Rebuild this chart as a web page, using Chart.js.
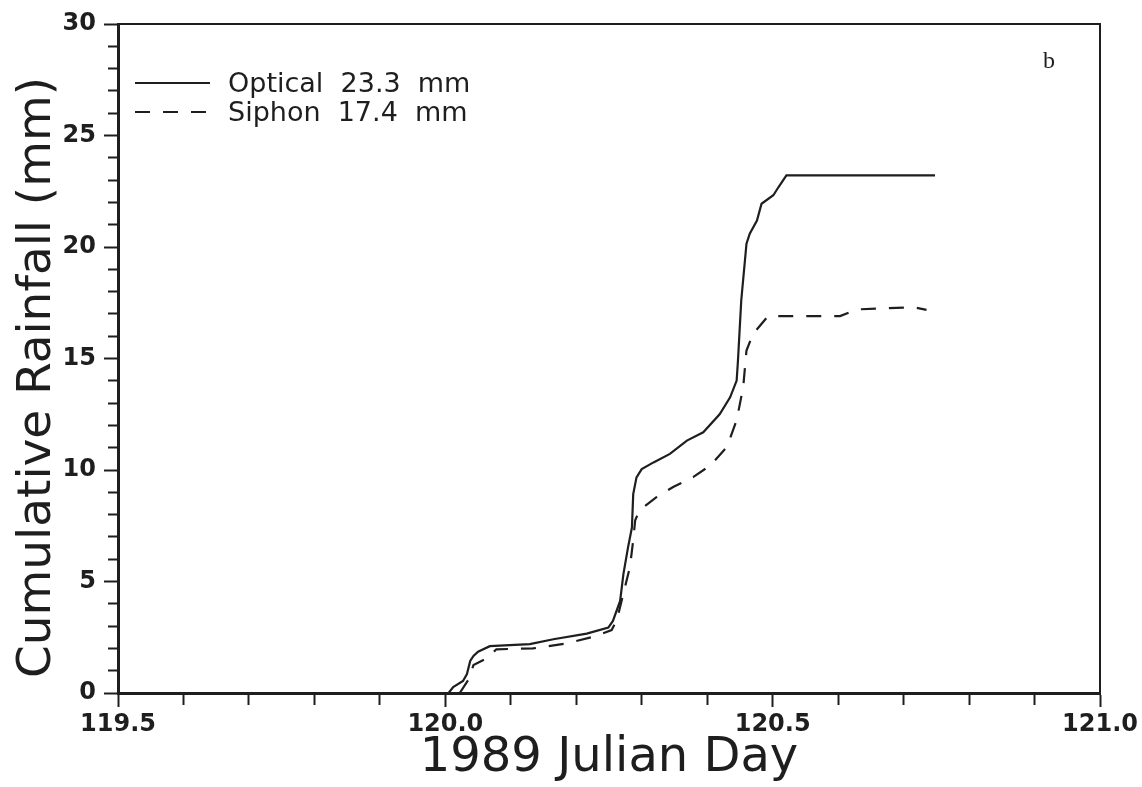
<!DOCTYPE html>
<html>
<head>
<meta charset="utf-8">
<title>Cumulative Rainfall</title>
<script src="https://cdn.jsdelivr.net/npm/chart.js@4.4.1/dist/chart.umd.min.js"></script>
<style>
  html, body { margin: 0; padding: 0; background: #fff; }
  #wrap { width: 1142px; height: 787px; }
</style>
</head>
<body>
<div id="wrap"><canvas id="rain" width="1142" height="787"></canvas></div>
<script>
// values (day of year 1989, mm)
var opticalDay = [120.005, 120.012, 120.027, 120.033, 120.038, 120.043, 120.050, 120.068, 120.129, 120.165,
                  120.216, 120.249, 120.256, 120.267, 120.272, 120.279, 120.285, 120.287, 120.292, 120.300,
                  120.318, 120.343, 120.369, 120.394, 120.419, 120.435, 120.445, 120.447, 120.452, 120.460,
                  120.465, 120.476, 120.483, 120.501, 120.509, 120.521, 120.748];
var opticalMm  = [0, 0.27, 0.54, 0.85, 1.44, 1.66, 1.85, 2.10, 2.19, 2.41,
                  2.66, 2.93, 3.23, 4.13, 5.33, 6.52, 7.42, 8.92, 9.67, 10.04,
                  10.34, 10.72, 11.32, 11.69, 12.50, 13.26, 14.01, 14.91, 17.60, 20.15,
                  20.60, 21.19, 21.94, 22.32, 22.69, 23.21, 23.21];

var siphonDay = [120.022, 120.035, 120.043, 120.063, 120.078, 120.134, 120.185, 120.226, 120.254, 120.262,
                 120.272, 120.282, 120.287, 120.290, 120.297, 120.323, 120.348, 120.379, 120.405, 120.430,
                 120.445, 120.455, 120.460, 120.470, 120.493, 120.603, 120.628, 120.715, 120.735];
var siphonMm  = [0, 0.58, 1.25, 1.55, 1.96, 2.00, 2.22, 2.52, 2.82, 3.27,
                 4.46, 5.66, 6.85, 7.75, 8.20, 8.79, 9.24, 9.69, 10.21, 11.03,
                 12.23, 13.72, 15.36, 16.10, 16.90, 16.90, 17.20, 17.30, 17.18];

var seriesNames = ['Optical  23.3  mm', 'Siphon  17.4  mm'];
var xMajor = [119.5, 120.0, 120.5, 121.0];
var yMajor = [0, 5, 10, 15, 20, 25, 30];

var ink = '#1e1e1e';

function pairs(xs, ys) {
  return xs.map(function (x, i) { return { x: x, y: ys[i] }; });
}
function isMajor(list, v) {
  return list.some(function (m) { return Math.abs(m - v) < 1e-6; });
}

// legend drawn inside the frame, plus the panel letter
var panelLegend = {
  id: 'panelLegend',
  afterDraw: function (chart) {
    var ctx = chart.ctx;
    ctx.save();
    chart.data.datasets.forEach(function (ds, i) {
      var y = 83 + i * 29;
      ctx.strokeStyle = ink;
      ctx.lineWidth = 2;
      ctx.setLineDash(ds.borderDash || []);
      ctx.beginPath();
      ctx.moveTo(135, y);
      ctx.lineTo(210, y);
      ctx.stroke();
      ctx.setLineDash([]);
      ctx.fillStyle = ink;
      ctx.font = '27px "DejaVu Sans"';
      ctx.textBaseline = 'alphabetic';
      ctx.fillText(ds.label, 228, y + 9);
    });
    ctx.font = '24px "Liberation Serif"';
    ctx.fillText('b', 1043, 68);
    ctx.restore();
  }
};

var tickFont = { family: 'DejaVu Sans', size: 24, weight: 'bold' };

new Chart(document.getElementById('rain'), {
  type: 'line',
  data: {
    datasets: [
      {
        label: seriesNames[0],
        data: pairs(opticalDay, opticalMm),
        borderColor: ink,
        borderWidth: 2.2,
        pointRadius: 0,
        tension: 0,
        fill: false
      },
      {
        label: seriesNames[1],
        data: pairs(siphonDay, siphonMm),
        borderColor: ink,
        borderWidth: 2.2,
        borderDash: [15, 13],
        pointRadius: 0,
        tension: 0,
        fill: false
      }
    ]
  },
  options: {
    responsive: false,
    animation: false,
    layout: { padding: 0 },
    plugins: {
      legend: { display: false },
      tooltip: { enabled: false }
    },
    scales: {
      x: {
        type: 'linear',
        position: 'bottom',
        min: 119.5,
        max: 121.0,
        afterFit: function (s) { s.height = 94; },
        ticks: {
          stepSize: 0.1,
          autoSkip: false,
          maxRotation: 0,
          padding: 3,
          color: ink,
          font: tickFont,
          callback: function (v) { return isMajor(xMajor, v) ? v.toFixed(1) : ''; }
        },
        grid: {
          drawOnChartArea: false,
          tickLength: 14,
          tickWidth: 2,
          tickColor: ink,
          // bottom ticks run from the axis downward: keep minor ones short
          tickBorderDash: function (c) { return isMajor(xMajor, c.tick.value) ? [] : [10, 100]; }
        },
        border: { color: ink, width: 3 },
        title: { display: true, text: '1989 Julian Day', color: ink, font: { family: 'DejaVu Sans', size: 48 }, padding: { top: 0, bottom: 0 } }
      },
      y: {
        type: 'linear',
        position: 'left',
        min: 0,
        max: 30,
        afterFit: function (s) { s.width = 118; },
        ticks: {
          stepSize: 1,
          autoSkip: false,
          padding: 8,
          color: ink,
          font: tickFont,
          callback: function (v) { return isMajor(yMajor, v) ? String(v) : ''; }
        },
        grid: {
          drawOnChartArea: false,
          tickLength: 14,
          tickWidth: 2,
          tickColor: ink,
          // left ticks run from the outer end toward the axis
          tickBorderDash: function (c) { return isMajor(yMajor, c.tick.value) ? [] : [0, 4, 9, 100]; }
        },
        border: { color: ink, width: 3 },
        title: { display: true, align: 'start', text: ' Cumulative Rainfall (mm)', color: ink, font: { family: 'DejaVu Sans', size: 47 }, padding: { top: 10, bottom: 0 } }
      },
      xTop: {
        type: 'linear',
        position: 'top',
        min: 119.5,
        max: 121.0,
        afterFit: function (s) { s.height = 24; },
        ticks: { display: false },
        grid: { display: false },
        border: { color: ink, width: 2 }
      },
      yRight: {
        type: 'linear',
        position: 'right',
        min: 0,
        max: 30,
        afterFit: function (s) { s.width = 42; },
        ticks: { display: false },
        grid: { display: false },
        border: { color: ink, width: 2 }
      }
    }
  },
  plugins: [panelLegend]
});
</script>
</body>
</html>
